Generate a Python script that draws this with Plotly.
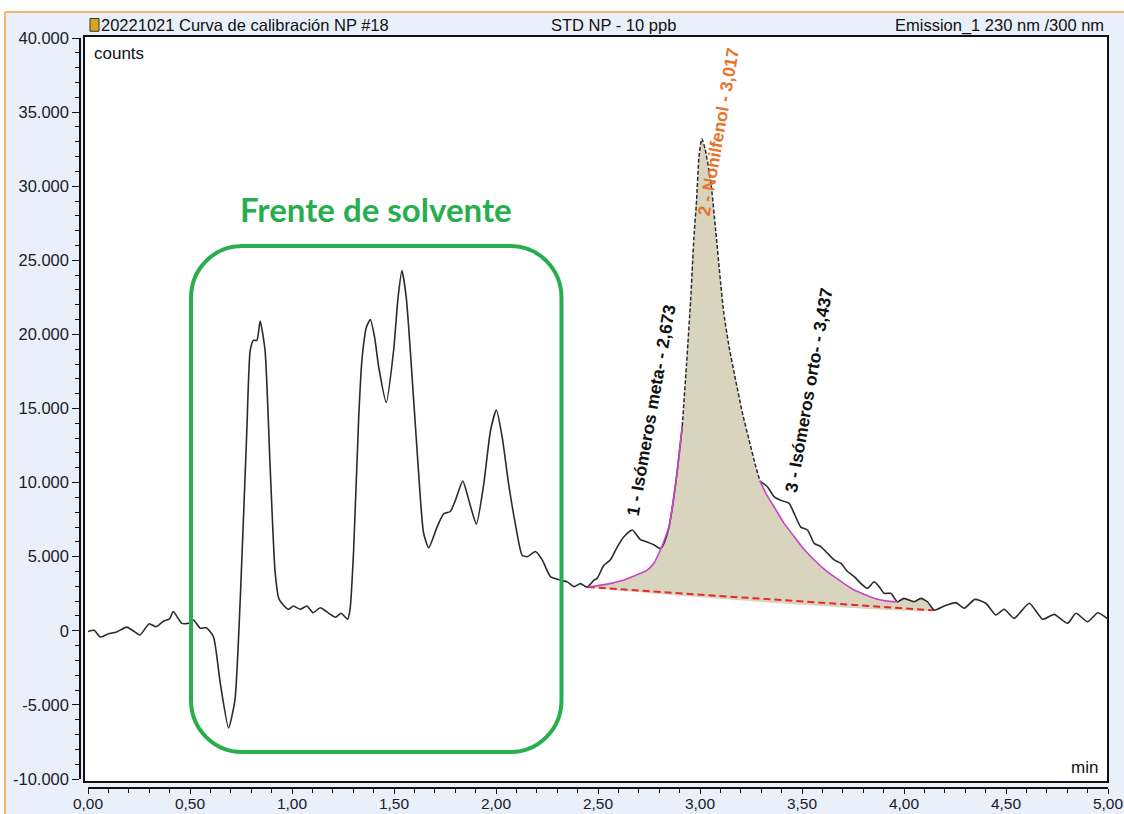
import numpy as np
import plotly.graph_objects as go

# ---------------- data ----------------
time_min = [0.000, 0.030, 0.060, 0.100, 0.140, 0.190, 0.225, 0.255, 0.300, 0.333, 0.370, 0.400,
            0.418, 0.460, 0.500, 0.517, 0.550, 0.580, 0.615, 0.648, 0.689, 0.720, 0.746, 0.778,
            0.795, 0.811, 0.828, 0.844, 0.868, 0.893, 0.917, 0.935, 0.950, 0.983, 1.007, 1.040,
            1.073, 1.103, 1.139, 1.180, 1.213, 1.241, 1.273, 1.285, 1.302, 1.327, 1.343, 1.365,
            1.384, 1.405, 1.425, 1.462, 1.498, 1.520, 1.539, 1.560, 1.580, 1.613, 1.645, 1.670,
            1.711, 1.744, 1.776, 1.801, 1.837, 1.875, 1.904, 1.940, 1.973, 2.002, 2.030, 2.062,
            2.095, 2.128, 2.153, 2.193, 2.226, 2.267, 2.308, 2.349, 2.382, 2.414, 2.447, 2.479,
            2.496, 2.528, 2.561, 2.594, 2.627, 2.668, 2.708, 2.741, 2.774, 2.807, 2.823, 2.848,
            2.872, 2.889, 2.913, 2.934, 2.954, 2.970, 2.983, 2.995, 3.009, 3.025, 3.052, 3.077,
            3.101, 3.117, 3.142, 3.175, 3.208, 3.240, 3.273, 3.294, 3.331, 3.363, 3.396, 3.437,
            3.462, 3.494, 3.527, 3.560, 3.592, 3.625, 3.658, 3.690, 3.723, 3.756, 3.788, 3.821,
            3.854, 3.878, 3.903, 3.935, 3.968, 4.000, 4.050, 4.082, 4.115, 4.148, 4.197, 4.254,
            4.295, 4.347, 4.401, 4.450, 4.491, 4.540, 4.614, 4.680, 4.736, 4.802, 4.843, 4.900,
            4.950, 5.000]
counts = [-50, 30, -420, -200, -80, 250, -30, -280, 480, 270, 650, 800,
          1300, 500, 520, 730, 180, 200, -400, -3500, -6550, -4700, 2000, 13300,
          18900, 19600, 19600, 20900, 18900, 11000, 4000, 2200, 1860, 1450, 1670, 1450,
          1670, 1220, 1560, 1180, 910, 1180, 780, 1500, 5400, 14400, 18300, 20500,
          21000, 19800, 17800, 15400, 18900, 22500, 24300, 22500, 18900, 12200, 6600, 5600,
          7000, 7900, 8050, 8800, 10100, 8400, 7200, 9900, 13500, 14900, 13100, 9900,
          7200, 5100, 5000, 5350, 4800, 3650, 3450, 3300, 2980, 3180, 2950, 3400,
          3540, 4400, 4800, 5650, 6350, 6800, 6150, 6000, 5800, 5550, 5900, 7000,
          9050, 10850, 13800, 18000, 22300, 26500, 29000, 32000, 33200, 32500, 30400, 27000,
          23500, 21400, 19200, 16900, 14700, 12900, 11100, 10100, 9700, 9050, 8800, 8600,
          7900, 7000, 6800, 5900, 5680, 5230, 4780, 4560, 4000, 3650, 3200, 2870,
          3310, 2980, 2530, 2530, 1960, 2190, 1960, 2190, 1960, 1400, 1670, 1900,
          1520, 2120, 1860, 1070, 1450, 840, 1860, 780, 1110, 510, 1180, 610,
          1220, 780]

# peak skim (tangent) curves
skim_left_t = [2.450, 2.545, 2.627, 2.708, 2.741, 2.774, 2.807, 2.830, 2.848, 2.872, 2.889, 2.913]
skim_left_v = [2950, 3150, 3430, 3880, 4100, 4560, 5500, 6300, 7030, 9050, 10850, 13800]
skim_right_t = [3.294, 3.330, 3.363, 3.410, 3.462, 3.510, 3.560, 3.610, 3.658, 3.710, 3.756,
                3.810, 3.854, 3.910, 3.968]
skim_right_v = [10100, 9100, 8370, 7300, 6350, 5500, 4780, 4150, 3650, 3150, 2750,
                2430, 2190, 2020, 1960]

# integration baseline
baseline_t = [2.450, 4.148]
baseline_v = [2950, 1380]

# peak labels
peak_labels = ["1 - Isómeros meta- - 2,673", "2 - Nonilfenol - 3,017", "3 - Isómeros orto- - 3,437"]
peak_label_t = [2.761, 3.089, 3.533]
peak_label_v = [14900, 33680, 16250]
peak_label_colors = ["#111111", "#e8732a", "#111111"]

# axis ticks
x_tickvals = [0.0, 0.5, 1.0, 1.5, 2.0, 2.5, 3.0, 3.5, 4.0, 4.5, 5.0]
x_ticktext = ["0,00", "0,50", "1,00", "1,50", "2,00", "2,50", "3,00", "3,50", "4,00", "4,50", "5,00"]
x_minor = [round(0.1 * i, 1) for i in range(51)]
y_tickvals = [-10000, -5000, 0, 5000, 10000, 15000, 20000, 25000, 30000, 35000, 40000]
y_ticktext = ["-10.000", "-5.000", "0", "5.000", "10.000", "15.000", "20.000", "25.000",
              "30.000", "35.000", "40.000"]
y_minor = list(range(-10000, 40001, 1000))

# solvent front box (data coordinates)
box_t = [0.505, 2.321]
box_v = [-8180, 25970]

# ---------------- figure ----------------
t = np.array(time_min)
v = np.array(counts)
t_peak_start, t_peak_end = skim_left_t[-1], skim_right_t[0]
t_tail_start, t_tail_end = skim_right_t[-1], baseline_t[1]

fig = go.Figure()

# filled integrated area
m_peak = (t >= t_peak_start) & (t <= t_peak_end)
m_tail = (t > t_tail_start) & (t <= t_tail_end)
fill_x = list(skim_left_t) + list(t[m_peak][1:-1]) + list(skim_right_t) + list(t[m_tail]) + [baseline_t[0]]
fill_y = list(skim_left_v) + list(v[m_peak][1:-1]) + list(skim_right_v) + list(v[m_tail]) + [baseline_v[0]]
fig.add_trace(go.Scatter(x=fill_x, y=fill_y, mode="lines", fill="toself",
                         fillcolor="#d8d4be", line=dict(width=0, shape="spline", smoothing=0.5),
                         hoverinfo="skip"))

# baseline
fig.add_trace(go.Scatter(x=baseline_t, y=baseline_v, mode="lines",
                         line=dict(color="#e8262b", width=2, dash="7px,4px"), hoverinfo="skip"))

# chromatogram segments
m1 = t <= t_peak_start
m3 = t >= t_peak_end
line_style = dict(color="#2b2b2b", width=1.6, shape="spline", smoothing=0.55)
fig.add_trace(go.Scatter(x=t[m1], y=v[m1], mode="lines", line=line_style))
fig.add_trace(go.Scatter(x=t[m_peak], y=v[m_peak], mode="lines",
                         line=dict(color="#2b2b2b", width=1.5, shape="spline", smoothing=0.55, dash="4px,2px")))
fig.add_trace(go.Scatter(x=t[m3], y=v[m3], mode="lines", line=line_style))

# skim curves
for st, sv in ((skim_left_t, skim_left_v), (skim_right_t, skim_right_v)):
    fig.add_trace(go.Scatter(x=st, y=sv, mode="lines",
                             line=dict(color="#c844c8", width=1.6, shape="spline", smoothing=0.6)))

# ---------------- shapes ----------------
shapes = []
# top white band + orange borders
shapes.append(dict(type="rect", xref="paper", yref="paper", x0=-0.09, x1=1.03, y0=1.0347, y1=1.07,
                   fillcolor="white", line=dict(width=0), layer="below"))
shapes.append(dict(type="rect", xref="paper", yref="paper", x0=-0.09, x1=-0.073, y0=-0.05, y1=1.07,
                   fillcolor="white", line=dict(width=0), layer="below"))
shapes.append(dict(type="line", xref="paper", yref="paper", x0=-0.073, x1=1.02, y0=1.0347, y1=1.0347,
                   line=dict(color="#f2a444", width=1.5)))
shapes.append(dict(type="line", xref="paper", yref="paper", x0=-0.073, x1=-0.073, y0=-0.05, y1=1.0347,
                   line=dict(color="#f2a444", width=1.5)))
# plot frame (white area)
shapes.append(dict(type="rect", xref="paper", yref="paper", x0=0.0039, x1=1.0, y0=0.008, y1=1.0027,
                   fillcolor="white", line=dict(color="#111111", width=2), layer="below"))
# icon
shapes.append(dict(type="rect", xref="paper", yref="paper", x0=0.0097, x1=0.0185, y0=1.009, y1=1.026,
                   fillcolor="#d9a521", line=dict(color="#333333", width=1)))

# rounded green box
x0, x1 = box_t
y0, y1 = box_v
rx, ry = 0.25, 3500
k = 0.552
path = (f"M {x0+rx},{y0} L {x1-rx},{y0} "
        f"C {x1-rx+k*rx},{y0} {x1},{y0+ry-k*ry} {x1},{y0+ry} "
        f"L {x1},{y1-ry} "
        f"C {x1},{y1-ry+k*ry} {x1-rx+k*rx},{y1} {x1-rx},{y1} "
        f"L {x0+rx},{y1} "
        f"C {x0+rx-k*rx},{y1} {x0},{y1-ry+k*ry} {x0},{y1-ry} "
        f"L {x0},{y0+ry} "
        f"C {x0},{y0+ry-k*ry} {x0+rx-k*rx},{y0} {x0+rx},{y0} Z")
shapes.append(dict(type="path", xref="x", yref="y", path=path,
                   line=dict(color="#27ae4f", width=4)))

# ---------------- annotations ----------------
ann = []
for txt, xt, yv, col in zip(peak_labels, peak_label_t, peak_label_v, peak_label_colors):
    ann.append(dict(x=xt, y=yv, xref="x", yref="y", text=txt, showarrow=False, textangle=-80,
                    font=dict(family="Arial", size=17.5, color=col, weight="bold"),
                    xanchor="center", yanchor="middle"))
ann.append(dict(x=(box_t[0] + box_t[1]) / 2, y=28470, xref="x", yref="y", text="Frente de solvente",
                showarrow=False, font=dict(family="Lato", size=33, color="#27ae4f", weight="bold"),
                xanchor="center", yanchor="middle"))
hdr_font = dict(family="Arial", size=16.5, color="#111111")
ann.append(dict(x=0.0185, y=1.0173, xref="paper", yref="paper", text="20221021 Curva de calibración NP #18",
                showarrow=False, font=hdr_font, xanchor="left", yanchor="middle"))
ann.append(dict(x=0.519, y=1.0173, xref="paper", yref="paper", text="STD NP - 10 ppb",
                showarrow=False, font=hdr_font, xanchor="center", yanchor="middle"))
ann.append(dict(x=0.998, y=1.0173, xref="paper", yref="paper", text="Emission_1 230 nm /300 nm",
                showarrow=False, font=hdr_font, xanchor="right", yanchor="middle"))
ann.append(dict(x=0.0117, y=0.9787, xref="paper", yref="paper", text="counts",
                showarrow=False, font=dict(family="Arial", size=17, color="#111111"),
                xanchor="left", yanchor="middle"))
ann.append(dict(x=0.9922, y=0.0267, xref="paper", yref="paper", text="min",
                showarrow=False, font=dict(family="Arial", size=17, color="#111111"),
                xanchor="right", yanchor="middle"))

tick_font = dict(family="Arial", size=16.5, color="#1a1a2a")
x_tick_font = dict(family="Arial", size=15.5, color="#1a1a2a")
fig.update_layout(
    width=1124, height=814, autosize=False,
    margin=dict(l=80, r=16, t=38, b=26, autoexpand=False),
    paper_bgcolor="#e9f0f9", plot_bgcolor="#e9f0f9",
    showlegend=False,
    shapes=shapes, annotations=ann,
    xaxis=dict(range=[0, 5], domain=[8 / 1028, 1], anchor="free", position=0, automargin=False,
               showline=True, linecolor="#111111", linewidth=1.5,
               ticks="outside", ticklen=5, tickwidth=1.3, tickcolor="#111111",
               ticklabelstandoff=-3, ticklabeloverflow="allow",
               tickmode="array", tickvals=x_tickvals, ticktext=x_ticktext, tickfont=x_tick_font,
               minor=dict(tickmode="array", tickvals=x_minor, ticks="outside", ticklen=4,
                          tickwidth=1, tickcolor="#111111", showgrid=False),
               showgrid=False, zeroline=False, fixedrange=True),
    yaxis=dict(range=[-10000, 40000], domain=[9 / 750, 1], anchor="free", position=0, automargin=False,
               showline=True, linecolor="#111111", linewidth=1.5,
               ticks="outside", ticklen=7, tickwidth=1.3, tickcolor="#111111",
               ticklabeloverflow="allow",
               tickmode="array", tickvals=y_tickvals, ticktext=y_ticktext, tickfont=tick_font,
               minor=dict(tickmode="array", tickvals=y_minor, ticks="outside", ticklen=4,
                          tickwidth=1, tickcolor="#111111", showgrid=False),
               showgrid=False, zeroline=False, fixedrange=True),
)

fig.write_html("out.html")
